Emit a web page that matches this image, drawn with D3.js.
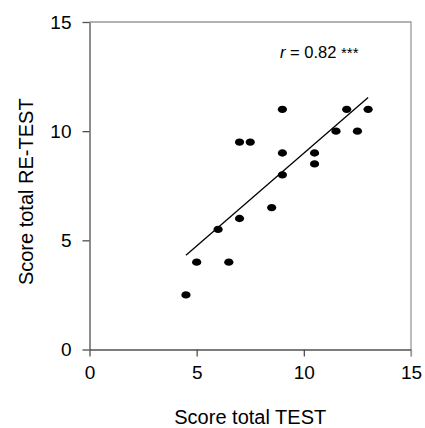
<!DOCTYPE html>
<html>
<head>
<meta charset="utf-8">
<script src="https://cdn.jsdelivr.net/npm/d3@7"></script>
<style>
  html, body { margin: 0; padding: 0; background: #fff; }
  svg { display: block; font-family: "Liberation Sans", Arial, sans-serif; }
</style>
</head>
<body>
<svg id="chart" width="425" height="428"></svg>
<script>
// Scores on the first test and the re-test, one entry per subject
const testScores   = [4.5, 5, 6, 6.5, 7, 7, 7.5, 8.5, 9, 9, 9, 10.5, 10.5, 11.5, 12, 12.5, 13];
const retestScores = [2.5, 4, 5.5, 4, 6, 9.5, 9.5, 6.5, 8, 9, 11, 8.5, 9, 10, 11, 10, 11];
const tickValues   = [0, 5, 10, 15];
const xTitle = "Score total TEST";
const yTitle = "Score total RE-TEST";
const rValue = "0.82";
const rStars = "***";

const svg = d3.select("#chart");
const x = d3.scaleLinear().domain([0, 15]).range([89.5, 411]);
const y = d3.scaleLinear().domain([0, 15]).range([349.5, 22]);

// frame: top and right border in light grey
svg.append("path")
  .attr("d", `M${x(0)},${y(15)}H${x(15)}V${y(0) + 7}`)
  .attr("fill", "none").attr("stroke", "#9a9a9a").attr("stroke-width", 1.3);

// axes
const xAxis = d3.axisBottom(x).tickValues(tickValues).tickSize(7).tickPadding(10).tickSizeOuter(0);
const yAxis = d3.axisLeft(y).tickValues(tickValues).tickSize(7).tickPadding(10).tickSizeOuter(0);

const gx = svg.append("g").attr("transform", `translate(0,${y(0)})`).call(xAxis);
const gy = svg.append("g").attr("transform", `translate(${x(0)},0)`).call(yAxis);

[gx, gy].forEach(g => {
  g.select(".domain").attr("stroke", "#505050").attr("stroke-width", 1.3);
  g.selectAll(".tick line").attr("stroke", "#505050").attr("stroke-width", 1.3);
  g.selectAll(".tick text")
    .attr("fill", "#000")
    .style("font-family", "'Liberation Sans', Arial, sans-serif")
    .style("font-size", "19px");
});
// the 15 tick on x sits on the grey frame line
gx.selectAll(".tick").filter(d => d === 15).select("line").attr("stroke", "#9a9a9a");
gx.selectAll(".tick text").attr("dy", "0.71em").attr("y", 16);
gy.selectAll(".tick text").attr("x", -18);

// least-squares fit drawn over the observed range of TEST scores
const mx = d3.mean(testScores), my = d3.mean(retestScores);
const sxy = d3.sum(testScores, (v, i) => (v - mx) * (retestScores[i] - my));
const sxx = d3.sum(testScores, v => (v - mx) ** 2);
const slope = sxy / sxx, intercept = my - slope * mx;
const [x0, x1] = d3.extent(testScores);
svg.append("line")
  .attr("x1", x(x0)).attr("y1", y(intercept + slope * x0))
  .attr("x2", x(x1)).attr("y2", y(intercept + slope * x1))
  .attr("stroke", "#000").attr("stroke-width", 1.3);

// points
svg.append("g").selectAll("ellipse")
  .data(testScores.map((v, i) => [v, retestScores[i]]))
  .join("ellipse")
  .attr("cx", d => x(d[0])).attr("cy", d => y(d[1]))
  .attr("rx", 4.6).attr("ry", 3.7)
  .attr("fill", "#000");

// correlation annotation
const note = svg.append("text")
  .attr("x", 280).attr("y", 58)
  .style("font-size", "16.5px").attr("fill", "#000");
note.append("tspan").style("font-style", "italic").text("r");
note.append("tspan").text(` = ${rValue} `);
note.append("tspan").style("font-size", "15px").text(rStars);

// axis titles
svg.append("text")
  .attr("x", (x(0) + x(15)) / 2).attr("y", 424)
  .attr("text-anchor", "middle")
  .style("font-size", "20px").text(xTitle);

svg.append("text")
  .attr("transform", `translate(33,${(y(0) + y(15)) / 2 + 6}) rotate(-90)`)
  .attr("text-anchor", "middle")
  .style("font-size", "20px").text(yTitle);
</script>
</body>
</html>
